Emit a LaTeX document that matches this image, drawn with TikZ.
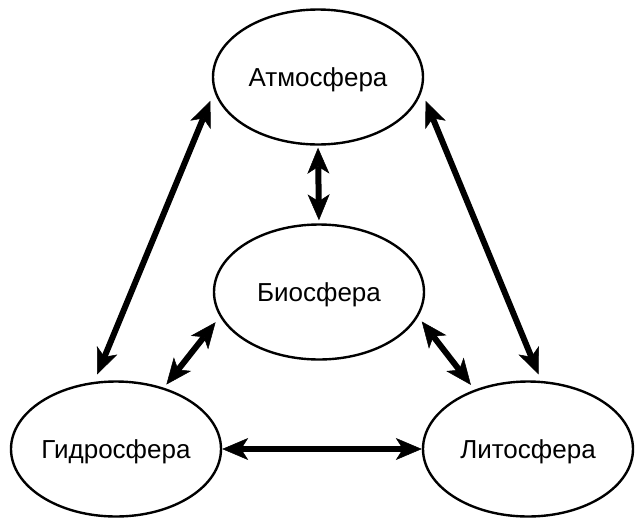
\documentclass[tikz,border=0pt]{standalone}
\usepackage{fontspec}
\setmainfont{Liberation Sans}
\usetikzlibrary{arrows.meta,shapes.geometric}
\tikzset{
spherebox/.style={draw=black, line width=2.4pt, ellipse, minimum width=210pt, minimum height=135pt, inner sep=0pt, inner xsep=-20pt, text depth=0pt, font=\fontsize{26}{30}\selectfont},
spherearrow/.style={{Stealth[length=26pt,width=22pt,inset=7pt,line width=0.5pt]}-{Stealth[length=26pt,width=22pt,inset=7pt,line width=0.5pt]}, line width=6pt, draw=black}
}

\begin{document}
\begin{tikzpicture}[x=1pt, y=-1pt]
  \useasboundingbox (0,0) rectangle (640,523);
  \node[spherebox] (atmo) at (318,77) {Атмосфера};
  \node[spherebox] (bio) at (319,292) {Биосфера};
  \node[spherebox] (hydro) at (116,449) {Гидросфера};
  \node[spherebox] (litho) at (528,449) {Литосфера};
  \draw[spherearrow, shorten <=2pt, shorten >=3pt] (atmo.south) -- (bio.north);
  \draw[spherearrow, shorten <=10pt, shorten >=8pt] (atmo.188) -- (hydro.108);
  \draw[spherearrow, shorten <=10pt, shorten >=7pt] (atmo.352) -- (litho.79);
  \draw[spherearrow, shorten <=7pt, shorten >=4pt] (bio.194) -- (hydro.52);
  \draw[spherearrow, shorten <=6pt, shorten >=6pt] (bio.346) -- (litho.132);
  \draw[spherearrow, shorten <=0pt, shorten >=0pt] (hydro.east) -- (litho.west);
\end{tikzpicture}
\end{document}
